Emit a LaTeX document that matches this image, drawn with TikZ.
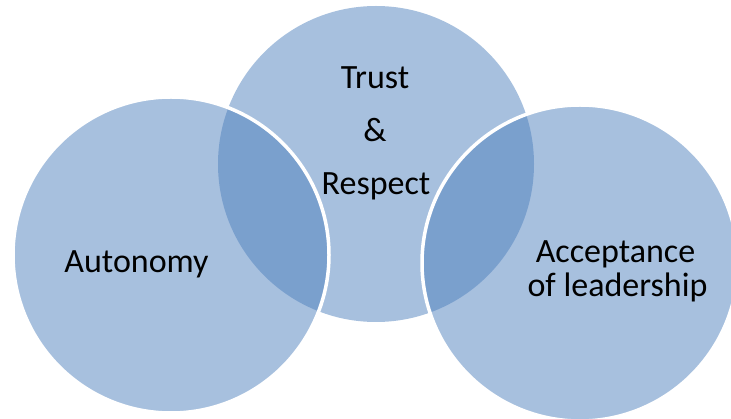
\documentclass[tikz,border=0pt]{standalone}
\usepackage{fontspec}
\setmainfont{Carlito}
\begin{document}
\begin{tikzpicture}[x=1pt,y=-1pt,
  blob/.style={fill={rgb,255:red,79;green,129;blue,189}, fill opacity=0.5},
  rim/.style={draw=white, line width=3.5pt},
  lbl/.style={anchor=base, inner sep=0pt, font=\fontsize{34}{34}\selectfont, text=black}]
  \useasboundingbox (0,0) rectangle (731,419);
  \begin{scope}
    \clip (0,0) rectangle (731,419);
    % translucent discs, the middle one first
    \fill[blob] (376,164) circle (158);
    \fill[blob] (171,255) circle (158);
    \fill[blob] (580,263) circle (158);
    % white rims of the two outer discs
    \draw[rim] (171,255) circle (158);
    \draw[rim] (580,263) circle (158);
  \end{scope}
  \node[lbl] (trust)   at (375,89)  {Trust};
  \node[lbl] (amp)     at (375,142) {\&};
  \node[lbl] (respect) at (376,195) {Respect};
  \node[lbl] (auto)    at (136.5,273) {Autonomy};
  \node[lbl] (accept)  at (615.5,263) {Acceptance};
  \node[lbl] (lead)    at (617.5,297) {of leadership};
\end{tikzpicture}
\end{document}
